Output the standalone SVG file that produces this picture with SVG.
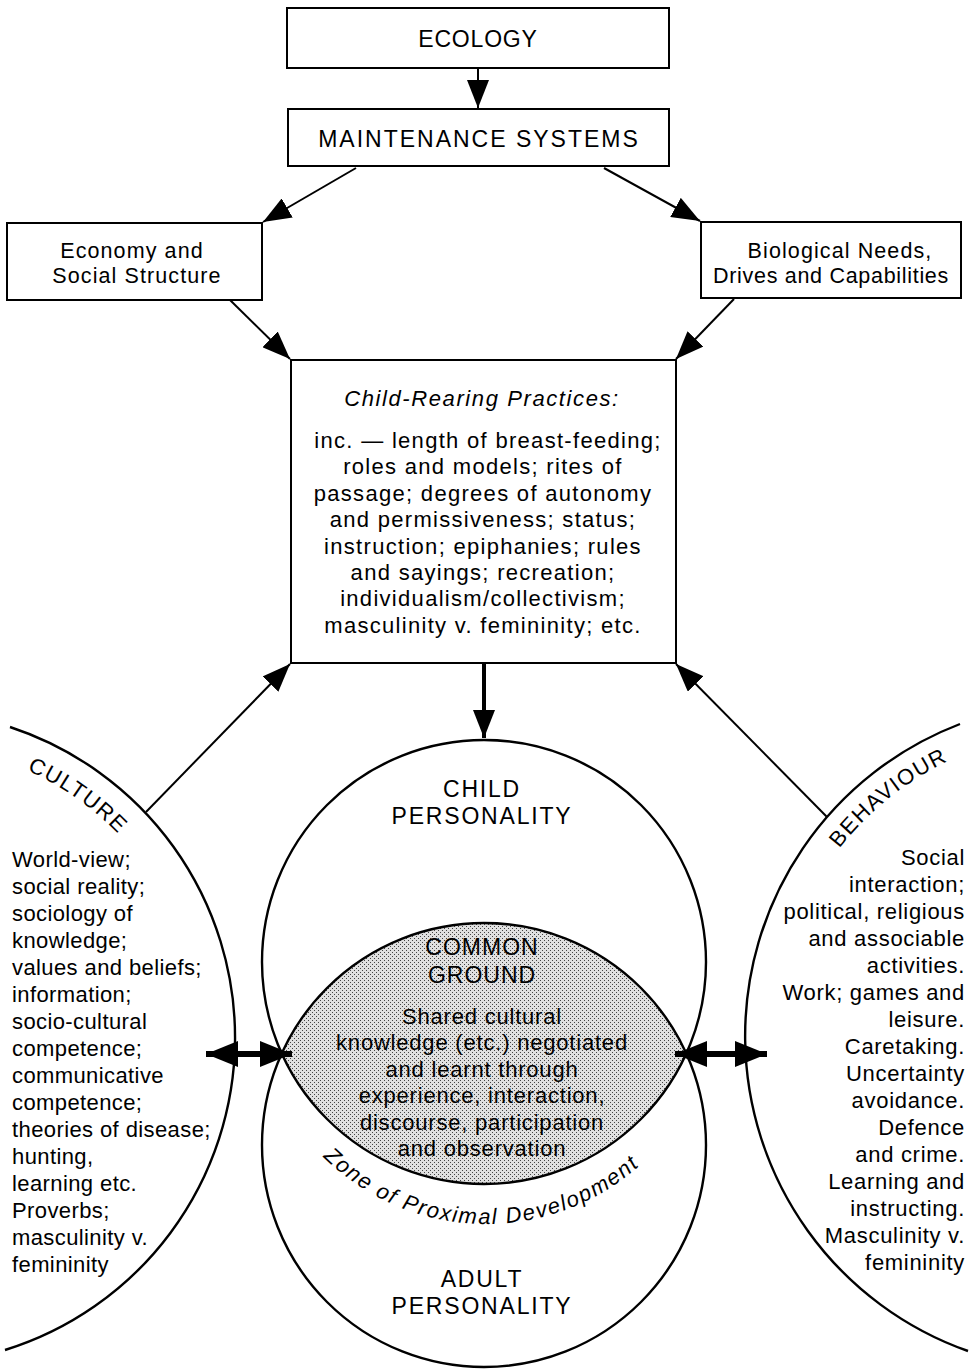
<svg xmlns="http://www.w3.org/2000/svg" width="972" height="1371" viewBox="0 0 972 1371">
  <defs>
    <style>
      .box { fill: #fff; stroke: #000; stroke-width: 2; }
      .ring { fill: none; stroke: #000; stroke-width: 2.4; }
      .t { font-family: "Liberation Sans", Arial, Helvetica, sans-serif; font-size: 22px; fill: #000; }
      .mid { text-anchor: middle; }
      .end { text-anchor: end; }
      .cap { font-size: 23px; letter-spacing: 1.8px; }
      .body { letter-spacing: 1.3px; }
      .small { font-size: 21.5px; letter-spacing: 1.1px; }
      .col { letter-spacing: 0.4px; }
      .colr { letter-spacing: 0.7px; }
      .shared { letter-spacing: 0.8px; }
      .it { font-style: italic; }
      .line { fill: none; stroke: #000; stroke-width: 2; }
      .thick { fill: none; stroke: #000; stroke-width: 4; }
      .dbl { fill: none; stroke: #000; stroke-width: 6; }
    </style>
    <marker id="head" markerUnits="userSpaceOnUse" markerWidth="30" markerHeight="22" refX="28" refY="11" orient="auto">
      <path d="M0,0 L28,11 L0,22 Z" fill="#000"/>
    </marker>
    <marker id="bighead" markerUnits="userSpaceOnUse" markerWidth="34" markerHeight="26" refX="32" refY="13" orient="auto-start-reverse">
      <path d="M0,0 L32,13 L0,26 Z" fill="#000"/>
    </marker>
    <pattern id="stipple" patternUnits="userSpaceOnUse" width="4" height="4">
      <rect width="4" height="4" fill="#e0e0e0"/>
      <rect x="0" y="0" width="1" height="1" fill="#444"/>
      <rect x="2" y="2" width="1" height="1" fill="#444"/>
    </pattern>
    <!-- baselines for the curved labels -->
    <path id="cultureArc" d="M -41.1 749.5 A 293 293 0 0 1 161.7 891.5"/>
    <path id="behaviourArc" d="M 806.3 901.3 A 305 305 0 0 1 1007.3 739.8"/>
    <path id="zoneArc" d="M 293.4 1120.5 A 231 231 0 0 0 671.7 1130.4"/>
  </defs>

  <rect width="972" height="1371" fill="#fff"/>

  <!-- large side arcs -->
  <g id="culture">
    <path class="ring" d="M 10 727 A 327 327 0 0 1 5 1350"/>
    <text class="t" style="font-size:22px;letter-spacing:1.5px"><textPath href="#cultureArc" startOffset="50%" text-anchor="middle">CULTURE</textPath></text>
    <g class="t col">
      <text x="12" y="867">World-view;</text>
      <text x="12" y="894">social reality;</text>
      <text x="12" y="921">sociology of</text>
      <text x="12" y="948">knowledge;</text>
      <text x="12" y="975">values and beliefs;</text>
      <text x="12" y="1002">information;</text>
      <text x="12" y="1029">socio-cultural</text>
      <text x="12" y="1056">competence;</text>
      <text x="12" y="1083">communicative</text>
      <text x="12" y="1110">competence;</text>
      <text x="12" y="1137">theories of disease;</text>
      <text x="12" y="1164">hunting,</text>
      <text x="12" y="1191">learning etc.</text>
      <text x="12" y="1218">Proverbs;</text>
      <text x="12" y="1245">masculinity v.</text>
      <text x="12" y="1272">femininity</text>
    </g>
  </g>

  <g id="behaviour">
    <path class="ring" d="M 960 724 A 334 334 0 0 0 968 1351"/>
    <text class="t" style="font-size:22px;letter-spacing:1.5px"><textPath href="#behaviourArc" startOffset="50%" text-anchor="middle">BEHAVIOUR</textPath></text>
    <g class="t colr end">
      <text x="965" y="865">Social</text>
      <text x="965" y="892">interaction;</text>
      <text x="965" y="919">political, religious</text>
      <text x="965" y="946">and associable</text>
      <text x="965" y="973">activities.</text>
      <text x="965" y="1000">Work; games and</text>
      <text x="965" y="1027">leisure.</text>
      <text x="965" y="1054">Caretaking.</text>
      <text x="965" y="1081">Uncertainty</text>
      <text x="965" y="1108">avoidance.</text>
      <text x="965" y="1135">Defence</text>
      <text x="965" y="1162">and crime.</text>
      <text x="965" y="1189">Learning and</text>
      <text x="965" y="1216">instructing.</text>
      <text x="965" y="1243">Masculinity v.</text>
      <text x="965" y="1270">femininity</text>
    </g>
  </g>

  <!-- overlapping personality circles with the shared lens -->
  <g id="common-ground">
    <path d="M 282 1053.5 A 222 222 0 0 1 686 1053.5 A 222 222 0 0 1 282 1053.5 Z" fill="url(#stipple)"/>
    <g class="t mid">
      <text x="482" y="955" class="cap" style="letter-spacing:1px">COMMON</text>
      <text x="482" y="983" class="cap" style="letter-spacing:1px">GROUND</text>
      <text x="482" y="1024" class="shared">Shared cultural</text>
      <text x="482" y="1050" class="shared">knowledge (etc.) negotiated</text>
      <text x="482" y="1077" class="shared">and learnt through</text>
      <text x="482" y="1103" class="shared">experience, interaction,</text>
      <text x="482" y="1130" class="shared">discourse, participation</text>
      <text x="482" y="1156" class="shared">and observation</text>
    </g>
  </g>

  <g id="child-personality">
    <circle class="ring" cx="484" cy="962" r="222"/>
    <text class="t mid cap" x="482" y="797">CHILD</text>
    <text class="t mid cap" x="482" y="824">PERSONALITY</text>
  </g>

  <g id="adult-personality">
    <circle class="ring" cx="484" cy="1145" r="222"/>
    <text class="t mid cap" x="482" y="1287">ADULT</text>
    <text class="t mid cap" x="482" y="1314">PERSONALITY</text>
  </g>

  <g id="zone-label">
    <text class="t it" style="letter-spacing:1.7px"><textPath href="#zoneArc" startOffset="50%" text-anchor="middle">Zone of Proximal Development</textPath></text>
  </g>

  <!-- boxes -->
  <g id="ecology">
    <rect class="box" x="287" y="8" width="382" height="60"/>
    <text class="t mid" x="478" y="47" style="font-size:23px;letter-spacing:0.8px">ECOLOGY</text>
  </g>

  <g id="maintenance-systems">
    <rect class="box" x="288" y="109" width="381" height="57"/>
    <text class="t mid" x="479" y="147" style="font-size:23px;letter-spacing:2px">MAINTENANCE SYSTEMS</text>
  </g>

  <g id="economy">
    <rect class="box" x="7" y="223" width="255" height="77"/>
    <text class="t mid small" x="132" y="258">Economy and</text>
    <text class="t mid small" x="137" y="283">Social Structure</text>
  </g>

  <g id="biological-needs">
    <rect class="box" x="701" y="222" width="260" height="76"/>
    <text class="t mid small" x="840" y="258">Biological Needs,</text>
    <text class="t mid small" x="831" y="283" style="letter-spacing:0.7px">Drives and Capabilities</text>
  </g>

  <g id="child-rearing">
    <rect class="box" x="291" y="360" width="385" height="303"/>
    <text class="t mid it" x="482" y="406" style="letter-spacing:1.6px">Child-Rearing Practices:</text>
    <g class="t mid body">
      <text x="488" y="448">inc. — length of breast-feeding;</text>
      <text x="483" y="474">roles and models; rites of</text>
      <text x="483" y="501">passage; degrees of autonomy</text>
      <text x="483" y="527">and permissiveness; status;</text>
      <text x="483" y="554">instruction; epiphanies; rules</text>
      <text x="483" y="580">and sayings; recreation;</text>
      <text x="483" y="606">individualism/collectivism;</text>
      <text x="483" y="633">masculinity v. femininity; etc.</text>
    </g>
  </g>

  <!-- connectors -->
  <g id="connectors">
    <line class="line" x1="478" y1="68" x2="478" y2="108" marker-end="url(#head)"/>
    <line class="line" x1="356" y1="168" x2="263" y2="222" marker-end="url(#head)"/>
    <line class="line" x1="604" y1="168" x2="700" y2="221" marker-end="url(#head)"/>
    <line class="line" x1="230" y1="300" x2="290" y2="359" marker-end="url(#head)"/>
    <line class="line" x1="734" y1="299" x2="676" y2="359" marker-end="url(#head)"/>
    <line class="line" x1="146" y1="812" x2="290" y2="664" marker-end="url(#head)"/>
    <line class="line" x1="827" y1="817" x2="676" y2="664" marker-end="url(#head)"/>
    <line class="thick" x1="484" y1="663" x2="484" y2="738" marker-end="url(#head)"/>
    <line class="dbl" x1="206" y1="1054" x2="292" y2="1054" marker-start="url(#bighead)" marker-end="url(#bighead)"/>
    <line class="dbl" x1="675" y1="1054" x2="767" y2="1054" marker-start="url(#bighead)" marker-end="url(#bighead)"/>
  </g>
</svg>
